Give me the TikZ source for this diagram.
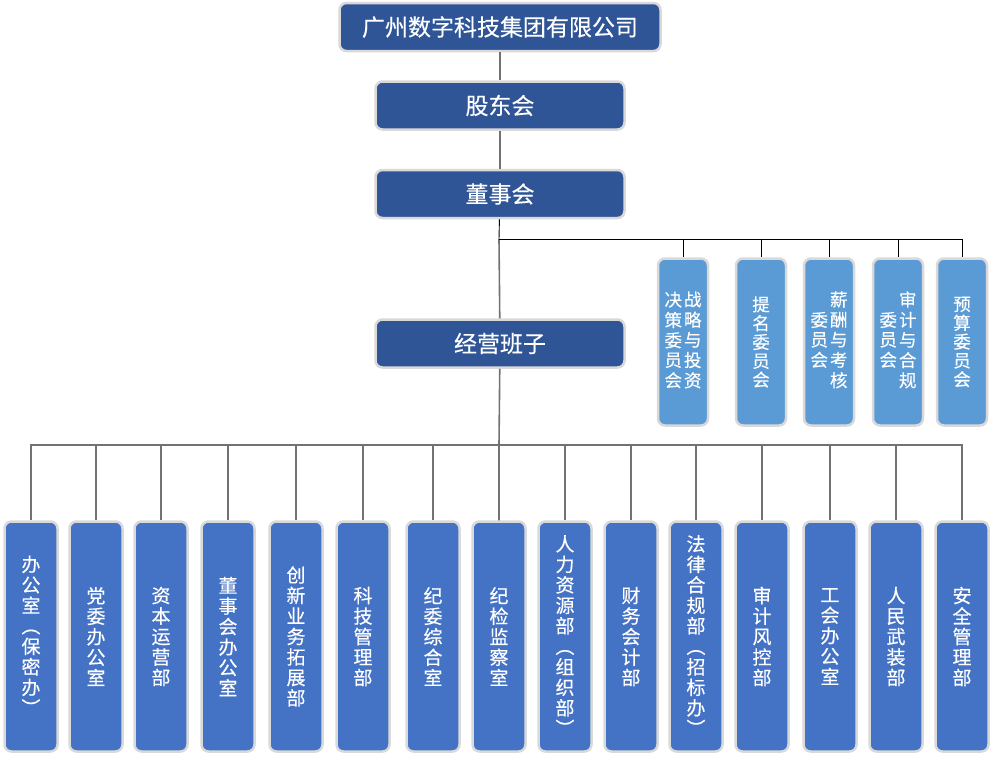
\documentclass[tikz,border=0pt]{standalone}
\usepackage{fontspec}
\usepackage{graphicx}
\newfontfamily\cjk[AutoFakeBold=0.3]{Noto Sans CJK SC}
\newcommand\vopen{\rotatebox[origin=c]{-90}{（}}
\newcommand\vclose{\rotatebox[origin=c]{-90}{）}}
\usetikzlibrary{positioning}
\definecolor{GroupBlue}{RGB}{47,85,151}
\definecolor{DeptBlue}{RGB}{68,114,196}
\definecolor{CommBlue}{RGB}{91,155,213}
\definecolor{RimGray}{RGB}{217,217,217}
\definecolor{LinkGray}{RGB}{118,113,113}
\tikzset{
  link/.style={draw=LinkGray,line width=1.6pt},
  thinlink/.style={draw=black,line width=0.9pt},
  topbox/.style={draw=RimGray,fill=GroupBlue,line width=2.5pt,rounded corners=7pt,
    minimum height=48pt,text=white,font=\cjk\bfseries\fontsize{23}{26}\selectfont},
  commbox/.style={draw=RimGray,fill=CommBlue,line width=2.5pt,rounded corners=7pt,
    minimum width=50pt,minimum height=167pt,inner sep=0pt,align=center,text=white,
    font=\cjk\bfseries\fontsize{17.5}{18.8}\selectfont},
  deptbox/.style={draw=RimGray,fill=DeptBlue,line width=2.5pt,rounded corners=7pt,
    minimum width=53pt,minimum height=230pt,inner sep=0pt,align=center,text=white,
    font=\cjk\bfseries\fontsize{19}{20.5}\selectfont}
}

\begin{document}
\begin{tikzpicture}[x=1pt,y=1pt]
  \useasboundingbox (0,0) rectangle (991,-764);
  % top chain
  \node[topbox,minimum width=321pt] (group) at (500,-27) {广州数字科技集团有限公司};
  \node[topbox,minimum width=249pt,below=28pt of group] (holders) {股东会};
  \node[topbox,minimum width=249pt,below=38pt of holders] (board) {董事会};
  \node[topbox,minimum width=249pt,below=99pt of board] (mgmt) {经营班子};
  \coordinate (split) at (499,-239);
  \coordinate (bus) at (499,-445);

  % committees
  \node[commbox] (strat) at (683,-342) {\begin{tabular}{@{}c@{\hspace{2pt}}c@{}}\begin{tabular}[c]{@{}c@{}}决\\策\\委\\员\\会\end{tabular} & \begin{tabular}[c]{@{}c@{}}战\\略\\与\\投\\资\end{tabular}\end{tabular}};
  \node[commbox] (nomin) at (761,-342) {提\\名\\委\\员\\会};
  \node[commbox] (pay) at (829,-342) {\begin{tabular}{@{}c@{\hspace{2pt}}c@{}}\begin{tabular}[c]{@{}c@{}}委\\员\\会\end{tabular} & \begin{tabular}[c]{@{}c@{}}薪\\酬\\与\\考\\核\end{tabular}\end{tabular}};
  \node[commbox] (audit) at (898,-342) {\begin{tabular}{@{}c@{\hspace{2pt}}c@{}}\begin{tabular}[c]{@{}c@{}}委\\员\\会\end{tabular} & \begin{tabular}[c]{@{}c@{}}审\\计\\与\\合\\规\end{tabular}\end{tabular}};
  \node[commbox] (budget) at (962,-342) {预\\算\\委\\员\\会};

  % departments
  \node[deptbox] (office) at (31,-636.5) {办\\公\\室\\\vopen\\保\\密\\办\\\vclose};
  \node[deptbox] (party) at (96,-636.5) {党\\委\\办\\公\\室};
  \node[deptbox] (capital) at (161,-636.5) {资\\本\\运\\营\\部};
  \node[deptbox] (boardoffice) at (228,-636.5) {董\\事\\会\\办\\公\\室};
  \node[deptbox] (innov) at (296,-636.5) {创\\新\\业\\务\\拓\\展\\部};
  \node[deptbox] (tech) at (363,-636.5) {科\\技\\管\\理\\部};
  \node[deptbox] (discip) at (433,-636.5) {纪\\委\\综\\合\\室};
  \node[deptbox] (inspect) at (499,-636.5) {纪\\检\\监\\察\\室};
  \node[deptbox] (hr) at (565,-636.5) {人\\力\\资\\源\\部\\\vopen\\组\\织\\部\\\vclose};
  \node[deptbox] (finance) at (631,-636.5) {财\\务\\会\\计\\部};
  \node[deptbox] (legal) at (696,-636.5) {法\\律\\合\\规\\部\\\vopen\\招\\标\\办\\\vclose};
  \node[deptbox] (risk) at (762,-636.5) {审\\计\\风\\控\\部};
  \node[deptbox] (union) at (830,-636.5) {工\\会\\办\\公\\室};
  \node[deptbox] (militia) at (896,-636.5) {人\\民\\武\\装\\部};
  \node[deptbox] (safety) at (962,-636.5) {安\\全\\管\\理\\部};

  % connectors
  \draw[link] (group) -- (holders);
  \draw[link] (holders) -- (board);
  \draw[thinlink] (board) -- (split);
  \draw[link] (split) -- (mgmt);
  \draw[thinlink] (split) -| (budget);
  \draw[thinlink] (strat.north |- split) -- (strat);
  \draw[thinlink] (nomin.north |- split) -- (nomin);
  \draw[thinlink] (pay.north |- split) -- (pay);
  \draw[thinlink] (audit.north |- split) -- (audit);

  \draw[link] (mgmt) -- (bus) -- (inspect);
  \draw[link] (office) |- (bus) -| (safety);
  \draw[link] (party.north |- bus) -- (party);
  \draw[link] (capital.north |- bus) -- (capital);
  \draw[link] (boardoffice.north |- bus) -- (boardoffice);
  \draw[link] (innov.north |- bus) -- (innov);
  \draw[link] (tech.north |- bus) -- (tech);
  \draw[link] (discip.north |- bus) -- (discip);
  \draw[link] (hr.north |- bus) -- (hr);
  \draw[link] (finance.north |- bus) -- (finance);
  \draw[link] (legal.north |- bus) -- (legal);
  \draw[link] (risk.north |- bus) -- (risk);
  \draw[link] (union.north |- bus) -- (union);
  \draw[link] (militia.north |- bus) -- (militia);
\end{tikzpicture}
\end{document}
